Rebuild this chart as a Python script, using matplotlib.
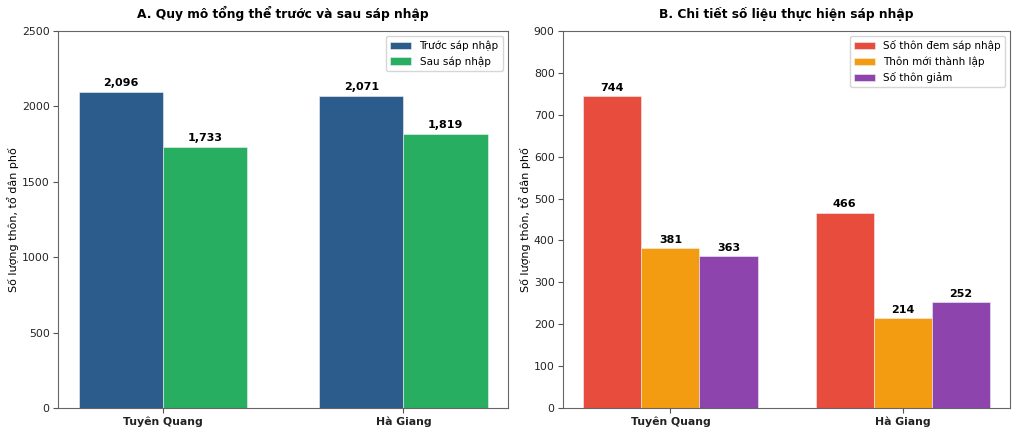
import matplotlib
matplotlib.use("Agg")
import matplotlib.pyplot as plt
import numpy as np

provinces = ["Tuyên Quang", "Hà Giang"]
before = [2096, 2071]
after = [1733, 1819]
merged = [744, 466]
new_created = [381, 214]
reduced = [363, 252]

plt.rcParams['font.family'] = ['DejaVu Sans']

fig = plt.figure(figsize=(10.22, 4.34), dpi=100)
ax1 = fig.add_axes([0.0568, 0.06, 0.4403, 0.8686])
ax2 = fig.add_axes([0.5509, 0.06, 0.4374, 0.8686])

edge = dict(edgecolor='#f2f2f2', linewidth=0.4)

x = np.arange(len(provinces))
w1 = 0.35
b1 = ax1.bar(x - w1/2, before, w1, color='#2B5C8C', label='Trước sáp nhập', **edge)
b2 = ax1.bar(x + w1/2, after, w1, color='#27AE60', label='Sau sáp nhập', **edge)
for bars in (b1, b2):
    for r in bars:
        ax1.text(r.get_x() + r.get_width()/2, r.get_height() + 25, f"{int(r.get_height()):,}",
                 ha='center', va='bottom', fontsize=8, fontweight='bold')
ax1.set_ylim(0, 2500)
ax1.set_xticks(x)
ax1.set_xticklabels(provinces, fontsize=9, fontweight='bold')
ax1.set_ylabel('Số lượng thôn, tổ dân phố', fontsize=8, labelpad=2)
ax1.set_title('A. Quy mô tổng thể trước và sau sáp nhập', fontsize=8.8, fontweight='bold', pad=9)
ax1.legend(loc='upper right', fontsize=7.5)

w2 = 0.25
c1 = ax2.bar(x - w2, merged, w2, color='#E74C3C', label='Số thôn đem sáp nhập', **edge)
c2 = ax2.bar(x, new_created, w2, color='#F39C12', label='Thôn mới thành lập', **edge)
c3 = ax2.bar(x + w2, reduced, w2, color='#8E44AD', label='Số thôn giảm', **edge)
for bars in (c1, c2, c3):
    for r in bars:
        ax2.text(r.get_x() + r.get_width()/2, r.get_height() + 8, f"{int(r.get_height()):,}",
                 ha='center', va='bottom', fontsize=8, fontweight='bold')
ax2.set_ylim(0, 900)
ax2.set_xticks(x)
ax2.set_xticklabels(provinces, fontsize=9, fontweight='bold')
ax2.set_ylabel('Số lượng thôn, tổ dân phố', fontsize=8, labelpad=2)
ax2.set_title('B. Chi tiết số liệu thực hiện sáp nhập', fontsize=8.8, fontweight='bold', pad=9)
ax2.legend(loc='upper right', fontsize=7.5)

for ax in (ax1, ax2):
    ax.tick_params(labelsize=7.8, color='#555555', labelcolor='#222222', pad=2.5)
    for s in ax.spines.values():
        s.set_color('#666666')

fig.savefig('out.png', dpi=100)
